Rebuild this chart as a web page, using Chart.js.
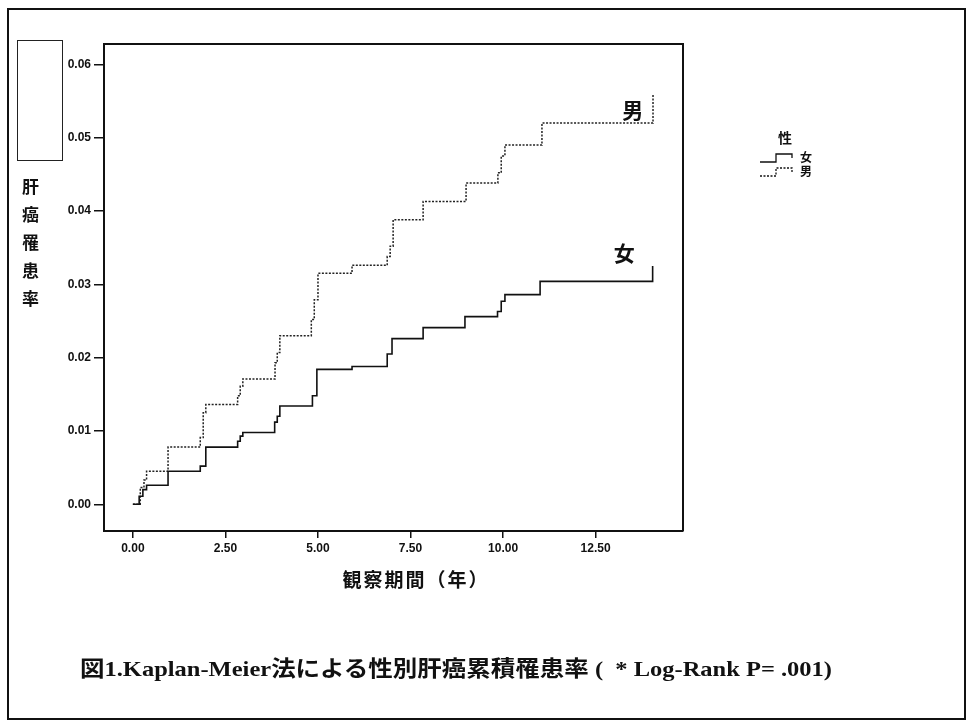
<!DOCTYPE html>
<html>
<head>
<meta charset="utf-8">
<script src="https://cdn.jsdelivr.net/npm/chart.js@4.4.0/dist/chart.umd.min.js"></script>
<style>
  body { margin: 0; background: #fff; }
  #wrap { position: relative; width: 969px; height: 726px; overflow: hidden; font-family: "Noto Sans CJK JP", sans-serif; color: #111; }
  #frame { position: absolute; left: 7px; top: 8px; width: 955px; height: 708px; border: 2px solid #111; }
  #ybox { position: absolute; left: 17px; top: 40px; width: 44px; height: 119px; border: 1.5px solid #222; }
  #ytitle { position: absolute; left: 18px; top: 178px; writing-mode: vertical-rl; font-size: 17px; font-weight: bold; letter-spacing: 11px; }
  #xtitle { position: absolute; left: 311px; width: 210px; top: 565px; text-align: center; font-size: 19px; font-weight: bold; letter-spacing: 2px; }
  #caption { position: absolute; left: 80px; top: 650px; font-family: "Liberation Serif", "Noto Sans CJK JP", serif; font-size: 22px; font-weight: bold; white-space: nowrap; transform-origin: 0 0; }
  canvas { position: absolute; left: 0; top: 0; }
</style>
</head>
<body>
<div id="wrap">
  <canvas id="kmChart" width="969" height="726"></canvas>
  <div id="frame"></div>
  <div id="ybox"></div>
  <div id="ytitle">肝癌罹患率</div>
  <div id="xtitle">観察期間（年）</div>
  <div id="caption">図1.Kaplan-Meier法による性別肝癌累積罹患率 (&nbsp; * Log-Rank P= .001)</div>
</div>
<script>
// data
var seriesNames = ['女', '男'];
var legendTitle = '性';

var femaleTimes = [0, 0.17, 0.27, 0.37, 0.95, 1.82, 1.97, 2.83, 2.9, 2.97, 3.83, 3.9, 3.97, 4.85, 4.97, 5.92, 6.87, 7.0, 7.84, 8.97, 9.85, 9.95, 10.05, 11.0, 14.04, 14.04];
var femaleRates = [0, 0.0011, 0.002, 0.0026, 0.0045, 0.0052, 0.0078, 0.0086, 0.0093, 0.0098, 0.0112, 0.012, 0.0134, 0.0148, 0.0184, 0.0188, 0.0205, 0.0226, 0.0241, 0.0256, 0.0263, 0.0277, 0.0286, 0.0304, 0.0304, 0.0325];

var maleTimes = [0, 0.2, 0.3, 0.37, 0.95, 1.82, 1.9, 1.97, 2.83, 2.9, 2.97, 3.84, 3.9, 3.97, 4.82, 4.9, 5.0, 5.92, 6.87, 6.95, 7.03, 7.84, 9.0, 9.86, 9.95, 10.05, 11.05, 14.05, 14.05];
var maleRates = [0, 0.0023, 0.0033, 0.0045, 0.0078, 0.0091, 0.0125, 0.0136, 0.0148, 0.0161, 0.0171, 0.0193, 0.0207, 0.023, 0.0252, 0.0279, 0.0315, 0.0326, 0.0338, 0.0352, 0.0388, 0.0413, 0.0438, 0.0452, 0.0475, 0.049, 0.052, 0.052, 0.056];

var xTicks = [0, 2.5, 5, 7.5, 10, 12.5];
var yTicks = [0, 0.01, 0.02, 0.03, 0.04, 0.05, 0.06];

// where the 男 / 女 labels sit inside the plot
var labelTimes = [13.27, 13.5];
var labelRates = [0.0342, 0.0537];

function toPoints(ts, vs) {
  return ts.map(function(t, i) { return { x: t, y: vs[i] }; });
}

Chart.defaults.font.family = 'Liberation Sans';
Chart.defaults.color = '#111';

var extras = {
  id: 'extras',
  afterDraw: function(chart) {
    var ctx = chart.ctx;
    var a = chart.chartArea;
    var xs = chart.scales.x, ys = chart.scales.y;
    ctx.save();
    // top and right side of the plot box
    ctx.strokeStyle = '#111';
    ctx.lineWidth = 2;
    ctx.beginPath();
    ctx.moveTo(a.left, a.top);
    ctx.lineTo(a.right, a.top);
    ctx.lineTo(a.right, a.bottom);
    ctx.stroke();

    // curve labels
    ctx.fillStyle = '#111';
    ctx.font = 'bold 21px "Noto Sans CJK JP"';
    ctx.textAlign = 'center';
    ctx.textBaseline = 'middle';
    for (var i = 0; i < seriesNames.length; i++) {
      ctx.fillText(seriesNames[i], xs.getPixelForValue(labelTimes[i]), ys.getPixelForValue(labelRates[i]));
    }

    // legend
    ctx.font = 'bold 14px "Noto Sans CJK JP"';
    ctx.fillText(legendTitle, 785, 138);
    ctx.font = 'bold 12px "Noto Sans CJK JP"';
    chart.data.datasets.forEach(function(ds, k) {
      var y0 = 162 + k * 14;
      ctx.strokeStyle = '#111';
      ctx.lineWidth = 1.3;
      ctx.setLineDash(ds.borderDash || []);
      ctx.beginPath();
      ctx.moveTo(760, y0);
      ctx.lineTo(776, y0);
      ctx.lineTo(776, y0 - 8);
      ctx.lineTo(792, y0 - 8);
      ctx.lineTo(792, y0 - 4);
      ctx.stroke();
      ctx.setLineDash([]);
      ctx.fillText(ds.label, 806, y0 - 5);
    });
    ctx.restore();
  }
};

var ctxK = document.getElementById('kmChart').getContext('2d');
var kmChart = new Chart(ctxK, {
  type: 'line',
  data: {
    datasets: [
      {
        label: seriesNames[0],
        data: toPoints(femaleTimes, femaleRates),
        borderColor: '#111',
        borderWidth: 1.6,
        stepped: 'before',
        pointRadius: 0,
        fill: false,
      },
      {
        label: seriesNames[1],
        data: toPoints(maleTimes, maleRates),
        borderColor: '#222',
        borderWidth: 1.5,
        borderDash: [2, 1.5],
        stepped: 'before',
        pointRadius: 0,
        fill: false,
      },
    ],
  },
  options: {
    responsive: false,
    animation: false,
    layout: { padding: { left: 0, top: 44, right: 286, bottom: 0 } },
    plugins: { legend: { display: false }, tooltip: { enabled: false } },
    scales: {
      x: {
        type: 'linear',
        min: -0.78,
        max: 14.86,
        afterBuildTicks: function(s) { s.ticks = xTicks.map(function(v) { return { value: v }; }); },
        afterFit: function(s) { s.height = 195; },
        ticks: {
          autoSkip: false,
          maxRotation: 0,
          padding: 3,
          font: { size: 12, weight: 'bold' },
          callback: function(v) { return Number(v).toFixed(2); },
        },
        grid: { drawOnChartArea: false, drawTicks: true, tickLength: 7, color: '#111', lineWidth: 1.5 },
        border: { display: true, color: '#111', width: 2 },
      },
      y: {
        min: -0.00364,
        max: 0.06277,
        afterBuildTicks: function(s) { s.ticks = yTicks.map(function(v) { return { value: v }; }); },
        afterFit: function(s) { s.width = 104; },
        ticks: {
          padding: 3,
          font: { size: 12, weight: 'bold' },
          callback: function(v) { return Number(v).toFixed(2); },
        },
        grid: { drawOnChartArea: false, drawTicks: true, tickLength: 10, color: '#111', lineWidth: 1.5 },
        border: { display: true, color: '#111', width: 2 },
      },
    },
  },
  plugins: [extras],
});

// stretch the caption to the printed width
var cap = document.getElementById('caption');
var w = cap.getBoundingClientRect().width;
cap.style.transform = 'scaleX(' + (752 / w) + ')';
</script>
</body>
</html>
